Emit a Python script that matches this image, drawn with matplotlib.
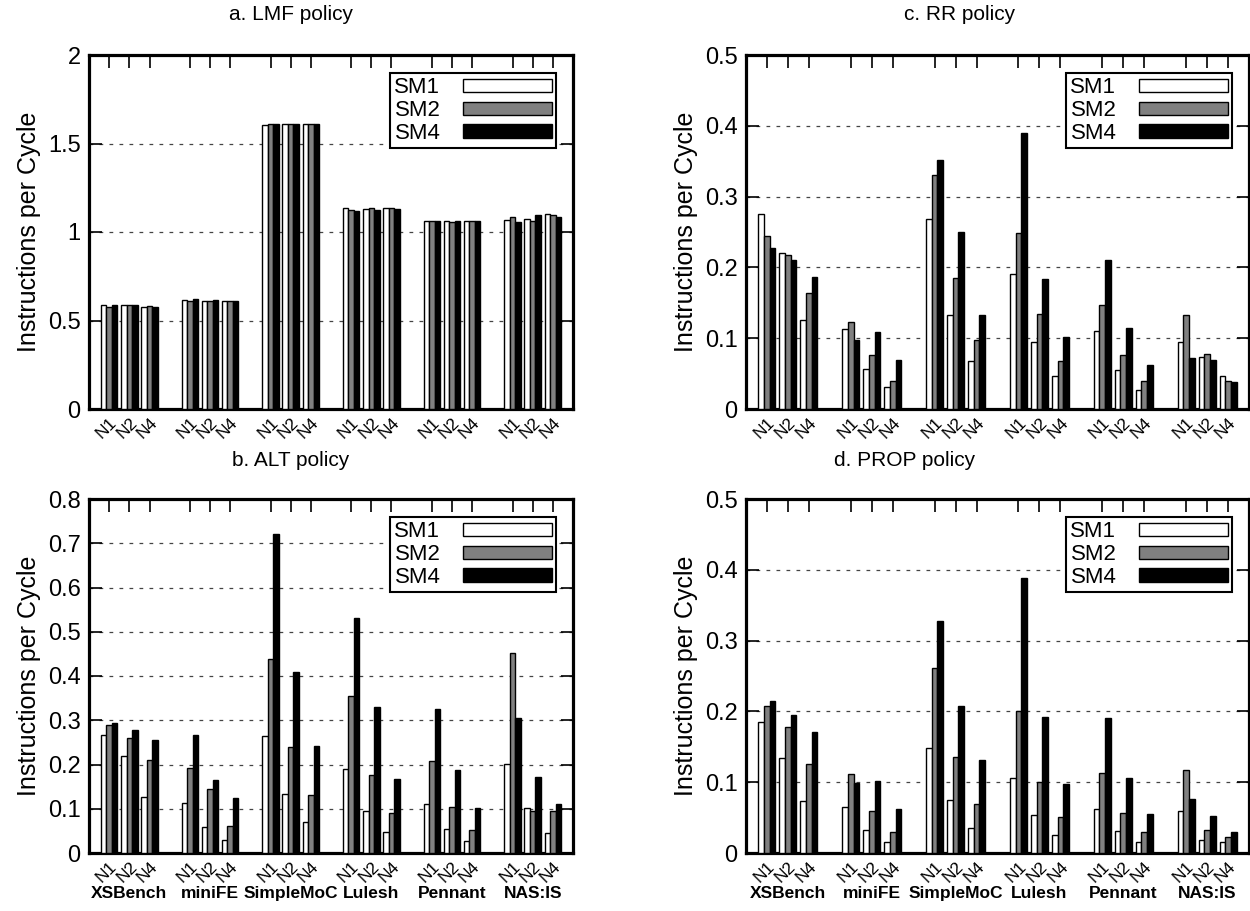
import matplotlib
matplotlib.use('Agg')
import matplotlib.pyplot as plt
import numpy as np
from matplotlib.patches import Patch
from matplotlib.transforms import blended_transform_factory

plt.rcParams['font.family'] = ['Liberation Sans', 'DejaVu Sans']

benchmarks = ['XSBench', 'miniFE', 'SimpleMoC', 'Lulesh', 'Pennant', 'NAS:IS']
node_labels = ['N1', 'N2', 'N4']
series_names = ['SM1', 'SM2', 'SM4']
series_colors = ['white', '#808080', 'black']

# values ordered benchmark by benchmark, N1, N2, N4 within each
lmf_sm1 = [0.585, 0.587, 0.576, 0.617, 0.608, 0.612, 1.604, 1.608, 1.608,
           1.135, 1.128, 1.133, 1.060, 1.060, 1.060, 1.068, 1.075, 1.099]
lmf_sm2 = [0.574, 0.585, 0.582, 0.608, 0.612, 0.610, 1.612, 1.612, 1.608,
           1.122, 1.137, 1.137, 1.060, 1.057, 1.060, 1.086, 1.060, 1.096]
lmf_sm4 = [0.589, 0.589, 0.578, 0.619, 0.615, 0.610, 1.612, 1.612, 1.608,
           1.118, 1.124, 1.128, 1.060, 1.060, 1.060, 1.056, 1.094, 1.083]

alt_sm1 = [0.267, 0.220, 0.127, 0.112, 0.058, 0.030, 0.265, 0.134, 0.070,
           0.190, 0.094, 0.047, 0.111, 0.054, 0.026, 0.202, 0.102, 0.045]
alt_sm2 = [0.289, 0.259, 0.210, 0.191, 0.144, 0.060, 0.438, 0.240, 0.132,
           0.354, 0.177, 0.090, 0.208, 0.104, 0.052, 0.453, 0.095, 0.096]
alt_sm4 = [0.293, 0.278, 0.256, 0.267, 0.165, 0.124, 0.721, 0.408, 0.241,
           0.532, 0.329, 0.168, 0.325, 0.187, 0.101, 0.305, 0.171, 0.111]

rr_sm1 = [0.276, 0.220, 0.126, 0.113, 0.057, 0.031, 0.268, 0.133, 0.068,
          0.190, 0.094, 0.046, 0.110, 0.055, 0.027, 0.094, 0.074, 0.047]
rr_sm2 = [0.245, 0.218, 0.164, 0.123, 0.076, 0.039, 0.330, 0.185, 0.098,
          0.249, 0.134, 0.068, 0.147, 0.076, 0.039, 0.133, 0.078, 0.040]
rr_sm4 = [0.227, 0.210, 0.187, 0.098, 0.109, 0.069, 0.351, 0.250, 0.133,
          0.390, 0.184, 0.102, 0.210, 0.115, 0.062, 0.072, 0.069, 0.038]

prop_sm1 = [0.185, 0.134, 0.073, 0.065, 0.032, 0.016, 0.149, 0.075, 0.036,
            0.106, 0.053, 0.026, 0.062, 0.031, 0.015, 0.059, 0.018, 0.015]
prop_sm2 = [0.207, 0.178, 0.126, 0.111, 0.060, 0.030, 0.262, 0.136, 0.069,
            0.200, 0.100, 0.051, 0.113, 0.057, 0.029, 0.117, 0.032, 0.022]
prop_sm4 = [0.215, 0.195, 0.171, 0.099, 0.101, 0.062, 0.327, 0.208, 0.132,
            0.388, 0.192, 0.097, 0.190, 0.106, 0.055, 0.076, 0.052, 0.030]

panels = [
    ('a. LMF policy', [lmf_sm1, lmf_sm2, lmf_sm4], 2.0, [0, 0.5, 1, 1.5, 2]),
    ('b. ALT policy', [alt_sm1, alt_sm2, alt_sm4], 0.8, [0, 0.1, 0.2, 0.3, 0.4, 0.5, 0.6, 0.7, 0.8]),
    ('c. RR policy', [rr_sm1, rr_sm2, rr_sm4], 0.5, [0, 0.1, 0.2, 0.3, 0.4, 0.5]),
    ('d. PROP policy', [prop_sm1, prop_sm2, prop_sm4], 0.5, [0, 0.1, 0.2, 0.3, 0.4, 0.5]),
]

W, H = 1250, 911
fig = plt.figure(figsize=(W / 100, H / 100), dpi=100)

# axes rectangles in pixels (left, top, right, bottom) and title centre (x, y)
rects = [
    (89, 55, 573, 409),
    (89, 499, 573, 853),
    (746, 55, 1249, 409),
    (746, 499, 1249, 853),
]
title_pos = [(291, 15), (291, 460), (960, 15), (905, 460)]

nb = len(benchmarks)
nn = len(node_labels)
centers = np.array([4 * b + k + 1 for b in range(nb) for k in range(nn)], dtype=float)
bw = 0.27

for idx, ((title, data, ymax, yticks), (l, t, r, btm), (tx, ty)) in enumerate(
        zip(panels, rects, title_pos)):
    ax = fig.add_axes([l / W, 1 - btm / H, (r - l) / W, (btm - t) / H])
    for s, (vals, col) in enumerate(zip(data, series_colors)):
        ax.bar(centers + (s - 1) * bw, vals, width=bw, color=col,
               edgecolor='black', linewidth=1.0, zorder=3)
    ax.set_xlim(0, 4 * nb)
    ax.set_ylim(0, ymax)
    ax.set_yticks(yticks)
    ax.set_yticklabels(['%g' % v for v in yticks])
    ax.yaxis.grid(True, linestyle=(0, (3, 5)), color='#444444', linewidth=0.9, zorder=0)
    ax.set_axisbelow(True)
    ax.set_xticks(centers)
    ax.set_xticklabels(node_labels * nb, rotation=45, ha='right',
                       rotation_mode='anchor')
    ax.tick_params(axis='both', direction='in', length=9, width=1.2,
                   top=True, right=True, labelsize=17, pad=6)
    ax.tick_params(axis='x', labelsize=12.5, pad=4)
    for sp in ax.spines.values():
        sp.set_linewidth(2.3)
    ax.set_ylabel('Instructions per Cycle', fontsize=18, labelpad=5)
    fig.text(tx / W, 1 - ty / H, title, fontsize=15, ha='center', va='center')
    handles = [Patch(facecolor=c, edgecolor='black', linewidth=1.0) for c in series_colors]
    lx = (r - 17 - l) / (r - l)
    ly = 1 - 18 / (btm - t)
    leg = ax.legend(handles, series_names, loc='upper right', bbox_to_anchor=(lx, ly),
                    markerfirst=False, fancybox=False, framealpha=1, edgecolor='black',
                    fontsize=16, handlelength=4.0, handleheight=0.55, handletextpad=1.0,
                    labelspacing=0.08, borderpad=0.2, borderaxespad=0)
    leg.get_frame().set_linewidth(1.5)
    leg.set_zorder(5)
    if idx in (1, 3):
        trans = blended_transform_factory(ax.transData, ax.transAxes)
        for b, name in enumerate(benchmarks):
            ax.text(4 * b + 2, -0.113, name, transform=trans, ha='center', va='center',
                    fontsize=12.5, fontweight='bold')

fig.savefig('out.png', dpi=100)
